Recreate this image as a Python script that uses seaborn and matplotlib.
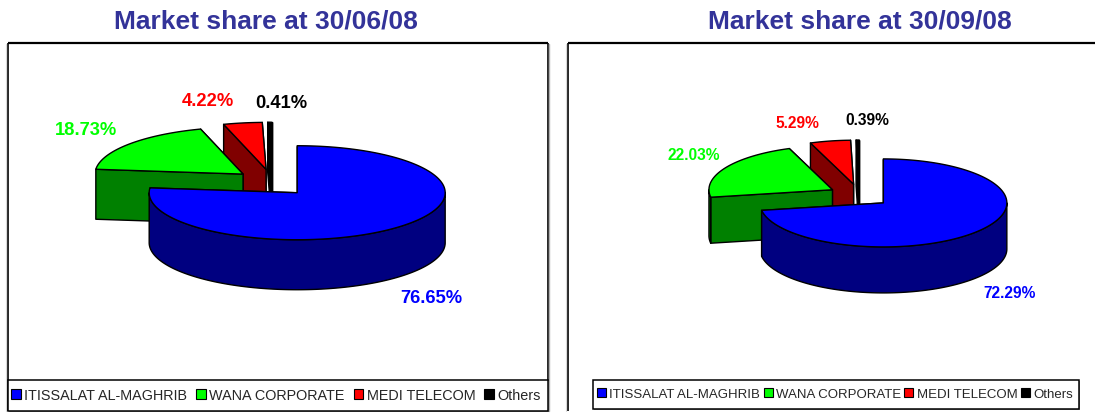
import numpy as np
import seaborn as sns
import matplotlib
matplotlib.use("Agg")
import matplotlib.pyplot as plt
from matplotlib.patches import Polygon, Rectangle

companies = ["ITISSALAT AL-MAGHRIB", "WANA CORPORATE", "MEDI TELECOM", "Others"]
titles = ["Market share at 30/06/08", "Market share at 30/09/08"]
share_june = [76.65, 18.73, 4.22, 0.41]
share_september = [72.29, 22.03, 5.29, 0.39]
label_june = ["76.65%", "18.73%", "4.22%", "0.41%"]
label_september = ["72.29%", "22.03%", "5.29%", "0.39%"]

sns.set_theme(style="white")
plt.rcParams["font.family"] = ["Liberation Sans", "DejaVu Sans"]
top_colors = sns.color_palette(["#0000FF", "#00FF00", "#FF0000", "#000000"])
wall_colors = sns.color_palette(["#000080", "#008000", "#800000", "#000000"])

W, H = 1095, 414
fig = plt.figure(figsize=(W / 100, H / 100), dpi=100, facecolor="white")
ax = fig.add_axes([0, 0, 1, 1])
ax.set_xlim(0, W)
ax.set_ylim(H, 0)
ax.axis("off")


def arc(cx, cy, rx, ry, a1, a2, drop=0.0):
    t = np.radians(np.linspace(a1, a2, max(2, int(abs(a1 - a2)) + 2)))
    return np.column_stack([cx + rx * np.cos(t), cy - ry * np.sin(t) + drop])


def pie3d(values, colors, walls, cx, cy, rx, ry, depth, ex, ey):
    fractions = np.asarray(values) / np.sum(values) * 360
    ends = 90 - np.cumsum(fractions)
    starts = ends + fractions
    for i in range(len(values) - 1, -1, -1):
        a1, a2 = starts[i], ends[i]
        mid = np.radians((a1 + a2) / 2)
        x0 = cx + ex * np.cos(mid)
        y0 = cy - ey * np.sin(mid)
        kw = dict(edgecolor="black", linewidth=1.0, joinstyle="round")
        for a in (a2, a1):
            p = arc(x0, y0, rx, ry, a, a)[0]
            quad = [(x0, y0), p, (p[0], p[1] + depth), (x0, y0 + depth)]
            ax.add_patch(Polygon(quad, facecolor=walls[i], **kw))
        # Front part of the rim: angles whose sine is negative
        lows = [(a2, a1)] + [(a2 + 360, a1 + 360)]
        for lo, hi in lows:
            lo_f, hi_f = max(lo, 180), min(hi, 360)
            if hi_f > lo_f:
                upper = arc(x0, y0, rx, ry, lo_f, hi_f)
                lower = arc(x0, y0, rx, ry, hi_f, lo_f, depth)
                ax.add_patch(Polygon(np.vstack([upper, lower]), facecolor=walls[i], **kw))
        top = np.vstack([[(x0, y0)], arc(x0, y0, rx, ry, a1, a2)])
        ax.add_patch(Polygon(top, facecolor=colors[i], **kw))


def frame(x0, y0, x1, y1, right=True):
    ax.plot([x0, x0], [y1, y0], color="black", lw=1.2, solid_capstyle="butt")
    ax.plot([x0, x1], [y0, y0], color="black", lw=1.6, solid_capstyle="butt")
    if right:
        ax.plot([x1, x1], [y0, y1], color="black", lw=1.2, solid_capstyle="butt")
        ax.plot([x1 + 1.5, x1 + 1.5], [y0 + 1, y1], color="#b0b0b0", lw=1.0)
    ax.plot([x0 - 1.5, x0 - 1.5], [y0 + 1, y1], color="#d8d8d8", lw=0.8)


frame(7.5, 43.5, 547.5, 412)
frame(567.5, 43.5, 1095, 412, right=False)

pie3d(share_june, top_colors, wall_colors, 272, 183.7, 148, 47, 50, 37.6, 13.5)
pie3d(share_september, top_colors, wall_colors, 859.5, 196.5, 123.5, 44, 46, 31.2, 11.5)

for x, name in zip((265.5, 860), titles):
    ax.text(x, 21.5, name, ha="center", va="center", fontsize=19, fontweight="bold", color="#333399")

pos_june = [(431.5, 299), (86.5, 131), (208, 102), (281, 104)]
pos_sept = [(1010, 294), (694, 156), (797, 124), (867, 121)]
for pos, labels, size in ((pos_june, label_june, 13.2), (pos_sept, label_september, 11.2)):
    for (x, y), text, c in zip(pos, labels, top_colors):
        ax.text(x, y, text, ha="center", va="center", fontsize=size, fontweight="bold", color=c)


def legend(x0, y0, x1, y1, size, hlen, pad, col, center):
    ax.add_patch(Rectangle((x0 + 1.5, y0 + 1.5), x1 - x0, y1 - y0, facecolor="#9a9a9a", edgecolor="none", zorder=4))
    ax.add_patch(Rectangle((x0, y0), x1 - x0, y1 - y0, facecolor="white", edgecolor="black", linewidth=1.1, zorder=5))
    handles = [Rectangle((0, 0), 1, 1, facecolor=c, edgecolor="black", linewidth=0.8) for c in top_colors]
    leg = fig.legend(handles, companies, loc="center", bbox_to_anchor=(center / W, 1 - (y0 + y1) / 2 / H), ncol=4,
                     frameon=False, prop={"size": size}, handlelength=hlen, handleheight=hlen,
                     handletextpad=pad, columnspacing=col, borderpad=0, borderaxespad=0, labelspacing=0)
    leg.set_zorder(6)


legend(7.5, 380.5, 547.5, 411.5, 10.4, 0.66, 0.25, 0.62, 276)
legend(592.5, 380.5, 1078.5, 409.5, 9.5, 0.68, 0.25, 0.26, 835)

fig.savefig("out.png", dpi=100, facecolor="white")
